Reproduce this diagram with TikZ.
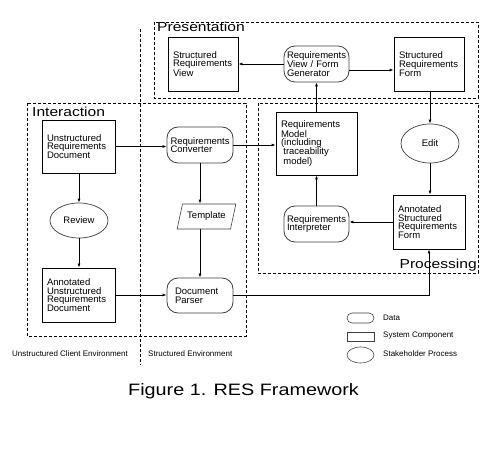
\documentclass[tikz,border=0pt]{standalone}
\usepackage{fontspec}
\setmainfont{Liberation Sans}
\newfontfamily\widesans[FakeStretch=1.2]{Liberation Sans}
\usetikzlibrary{shapes.geometric,arrows.meta}
\begin{document}
\begin{tikzpicture}[x=1pt,y=-1pt,
  every node/.style={font=\fontsize{9.5}{8.7}\selectfont},
  box/.style={draw, rectangle, line width=0.8pt, align=left, inner xsep=5pt, inner ysep=0pt},
  comp/.style={box, rounded corners=11pt, draw=black!75},
  proc/.style={draw, ellipse, line width=0.7pt, draw=black!75, inner sep=0pt},
  region/.style={line width=0.8pt, dash pattern=on 3pt off 2pt},
  bigtitle/.style={font=\widesans\fontsize{13}{13}\selectfont, inner sep=0pt},
  small/.style={font=\fontsize{8}{8}\selectfont, inner sep=0pt},
  conn/.style={line width=0.8pt, -{Latex[length=4pt,width=3pt]}}
]
\useasboundingbox (0,0) rectangle (501,449);

% regions
\draw[region] (154,22) rectangle (478,98);
\draw[region] (27,103) rectangle (246,336);
\draw[region] (258,103) rectangle (478,273);
\draw[region] (140,29) -- (140,365);

\node[bigtitle, anchor=base west] (tpres) at (157,32) {Presentation};
\node[bigtitle, anchor=base west] (tinter) at (32,117) {Interaction};
\node[bigtitle, anchor=base east] (tproc) at (477,269) {Processing};

% presentation
\node[box, text width=60pt, minimum height=54pt] (srv) at (203,64) {Structured\\Requirements\\View};
\node[comp, text width=59pt, inner xsep=3pt, minimum height=36pt] (rvfg) at (316.5,64) {Requirements\\View / Form\\Generator};
\node[box, text width=60pt, minimum height=54pt] (srf) at (429,64) {Structured\\Requirements\\Form};

% processing
\node[box, text width=71pt, minimum height=63pt, font=\fontsize{9.5}{8}\selectfont] (rm) at (316.5,143.5) {Requirements\\Model\\(including\\\hspace*{0.25em}traceability\\\hspace*{0.25em}model)};
\node[proc, minimum width=58pt, minimum height=39pt] (edit) at (430,143.5) {Edit};
\node[comp, text width=59pt, inner xsep=3pt, minimum height=36pt] (ri) at (316.5,224) {Requirements\\Interpreter};
\node[box, text width=62pt, minimum height=54pt] (asrf) at (429,222) {Annotated\\Structured\\Requirements\\Form};

% interaction
\node[box, text width=63pt, minimum height=53pt] (urd) at (78.5,146.5) {Unstructured\\Requirements\\Document};
\node[comp, text width=59pt, inner xsep=3.5pt, minimum height=36pt] (rc) at (200,145) {Requirements\\Converter};
\node[proc, minimum width=58pt, minimum height=35pt] (review) at (79,220.5) {Review};
\node[draw, trapezium, trapezium left angle=64, trapezium right angle=116, trapezium stretches=true, minimum width=59pt, minimum height=25pt, inner sep=0pt, line width=0.6pt, draw=black!75] (tmpl) at (206.5,216.5) {Template};
\node[box, text width=63pt, minimum height=54pt] (adoc) at (78.5,295) {Annotated\\Unstructured\\Requirements\\Document};
\node[comp, text width=50pt, inner xsep=8pt, minimum height=35pt] (dp) at (200,295.5) {Document\\Parser};

% connectors
\draw[conn] (rvfg.west) -- (rvfg.west -| srv.east);
\draw[conn] ([yshift=-6pt]rvfg.east) -- ([yshift=-6pt]rvfg.east -| srf.west);
\draw[conn] (srf.south -| edit.north) -- (edit.north);
\draw[conn] (edit.south) -- (edit.south |- asrf.north);
\draw[conn] (asrf.west) -- (asrf.west -| ri.east);
\draw[conn] (ri.north) -- (rm.south);
\draw[conn] (rm.north) -- (rvfg.south);
\draw[conn] (urd.east) -- (urd.east -| rc.west);
\draw[conn] (rc.east) -- (rc.east -| rm.west);
\draw[conn] (urd.south -| review.north) -- (review.north);
\draw[conn] (review.south) -- (review.south |- adoc.north);
\draw[conn] (rc.south) -- (rc.south |- tmpl.north);
\draw[conn] (rc.south |- tmpl.south) -- (dp.north);
\draw[conn] (adoc.east) -- (adoc.east -| dp.west);
\draw[conn] (dp.east) -| (asrf.south);

% bottom labels
\node[small, anchor=west] (ucenv) at (12,354) {Unstructured Client Environment};
\node[small, anchor=west] (senv) at (148,354) {Structured Environment};

% legend
\node[draw, rounded corners=5pt, line width=0.6pt, draw=black!75, minimum width=27pt, minimum height=10pt, inner sep=0pt] (lgdata) at (360.5,318) {};
\node[small, anchor=west] (lgdatat) at (383,318) {Data};
\node[draw, line width=0.6pt, draw=black!75, minimum width=27pt, minimum height=9pt, inner sep=0pt] (lgcomp) at (360.5,336.5) {};
\node[small, anchor=west] (lgcompt) at (383,336) {System Component};
\node[draw, ellipse, line width=0.6pt, draw=black!75, minimum width=27pt, minimum height=16pt, inner sep=0pt] (lgproc) at (360.5,355) {};
\node[small, anchor=west] (lgproct) at (383,354) {Stakeholder Process};

% caption
\node[font=\widesans\fontsize{16.5}{16.5}\selectfont, anchor=base, inner sep=0pt] (caption) at (243.5,395) {Figure 1. RES Framework};
\end{tikzpicture}
\end{document}
